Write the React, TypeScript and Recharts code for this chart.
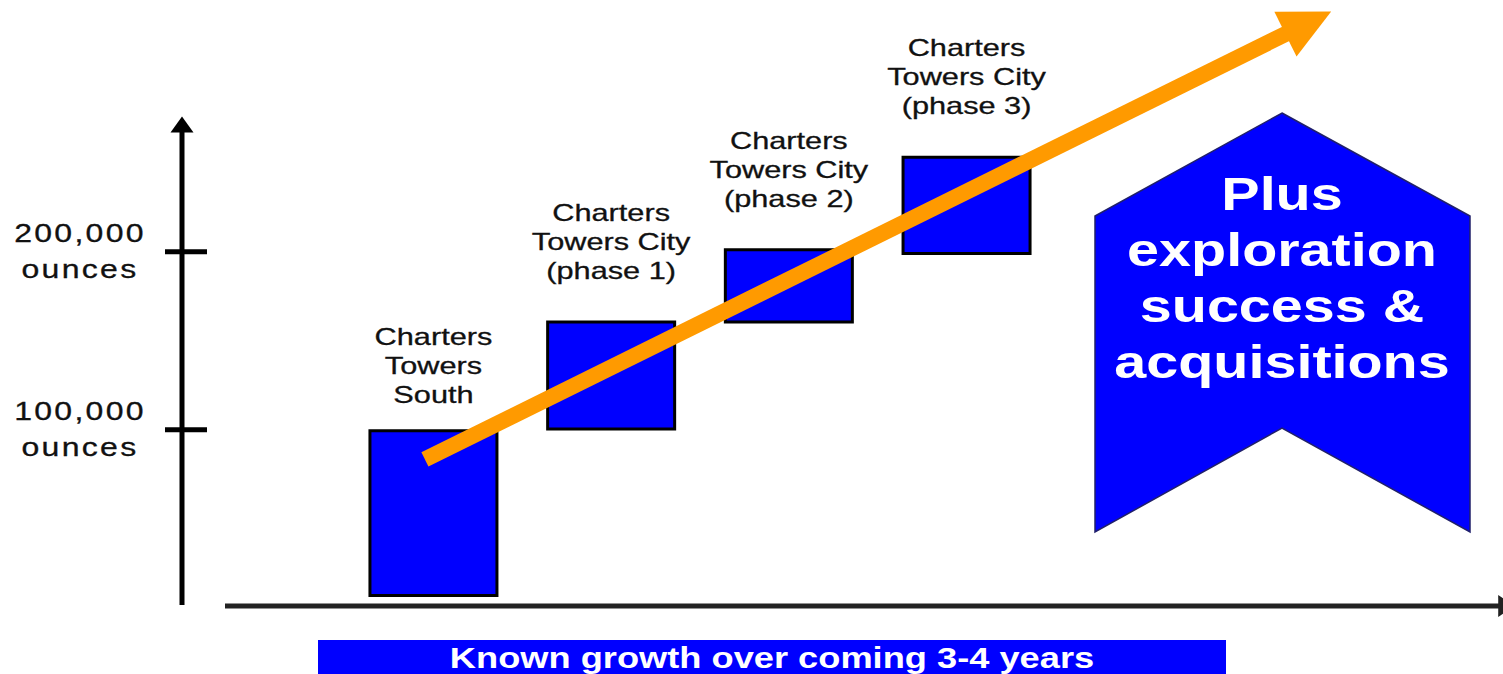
import { Bar, ComposedChart, LabelList, ReferenceLine, XAxis, YAxis } from "recharts";

// projects in the growth plan (label lines split by \n)
const projectLabels = [
    "Charters\nTowers\nSouth",
    "Charters\nTowers City\n(phase 1)",
    "Charters\nTowers City\n(phase 2)",
    "Charters\nTowers City\n(phase 3)",
];
// where each step starts and how many ounces it adds
const startOunces = [7000, 100500, 160500, 199000];
const addedOunces = [92500, 60000, 40500, 54000];
const yTicks = [100000, 200000];
const yTickUnit = "ounces";
const sideNote = ["Plus", "exploration", "success &", "acquisitions"];
const footNote = "Known growth over coming 3-4 years";

// trend arrow ends, in chart units
const trendFrom = { x: 0.95, y: 83400 };
const trendTo = { x: 6.05, y: 334800 };

const BLUE = "#0000FF";
const ORANGE = "#FF9A00";
const FONT = "'Liberation Sans', Arial, sans-serif";
const STRETCH = 1.28;
const labelGap = [28, 43, 43, 43];
const X_MIN = -0.417;
const X_MAX = 7;

const data = projectLabels.map((label, i) => ({
    slot: i + 1,
    label,
    start: startOunces[i],
    added: addedOunces[i],
}));

function SText({ x, y, sx = STRETCH, children, ...rest }: any) {
    return (
        <text transform={`translate(${x} ${y}) scale(${sx} 1)`} textAnchor="middle" fontFamily={FONT} {...rest}>
            {children}
        </text>
    );
}

function arrowShape(headLen: number, headWidth: number) {
    return (p: any) => {
        const { x1, y1, x2, y2, stroke, strokeWidth } = p;
        const dx = x2 - x1;
        const dy = y2 - y1;
        const len = Math.sqrt(dx * dx + dy * dy) || 1;
        const ux = dx / len;
        const uy = dy / len;
        const bx = x2 - ux * headLen;
        const by = y2 - uy * headLen;
        const nx = -uy * headWidth / 2;
        const ny = ux * headWidth / 2;
        return (
            <g>
                <line x1={x1} y1={y1} x2={bx + ux} y2={by + uy} stroke={stroke} strokeWidth={strokeWidth} />
                <polygon points={`${x2},${y2} ${bx + nx},${by + ny} ${bx - nx},${by - ny}`} fill={stroke} />
            </g>
        );
    };
}

function YTick(props: any) {
    const { x, y, payload } = props;
    const v = Number(payload.value);
    return (
        <g>
            <line x1={x - 17} y1={y} x2={x + 25} y2={y} stroke="#000" strokeWidth={5} />
            <SText x={x - 102} y={y - 10} fontSize={25} letterSpacing={1.8} fill="#111" stroke="#111" strokeWidth={0.3}>
                {v.toLocaleString("en-US")}
            </SText>
            <SText x={x - 102} y={y + 26} fontSize={25} letterSpacing={1.8} fill="#111" stroke="#111" strokeWidth={0.3}>
                {yTickUnit}
            </SText>
        </g>
    );
}

function BarLabel(props: any) {
    const vb = props.viewBox ?? props;
    const x = vb.x ?? props.x;
    const y = vb.y ?? props.y;
    const w = vb.width ?? props.width;
    const text = String(props.value ?? "");
    const idx = projectLabels.indexOf(text);
    const lines = text.split("\n");
    const cx = x + w / 2;
    const last = y - (labelGap[idx] ?? 43);
    return (
        <g>
            {lines.map((ln, i) => (
                <SText key={i} x={cx} y={last - (lines.length - 1 - i) * 29} fontSize={24} fill="#111" stroke="#111" strokeWidth={0.3}>
                    {ln}
                </SText>
            ))}
        </g>
    );
}

export default function App() {
    return (
        <div style={{ position: "absolute", left: 0, top: 0, width: 1503, height: 674, background: "#fff", overflow: "hidden" }}>
            <ComposedChart width={1503} height={674} data={data} margin={{ top: 118, right: 3, bottom: 66, left: 0 }}>
                <XAxis dataKey="slot" type="number" domain={[X_MIN, X_MAX]} hide />
                <YAxis
                    type="number"
                    domain={[0, 275000]}
                    ticks={yTicks}
                    width={182}
                    axisLine={false}
                    tickLine={false}
                    tickSize={0}
                    tickMargin={0}
                    tick={(p: any) => <YTick {...p} />}
                />
                <Bar dataKey="start" stackId="a" barSize={127} fill="transparent" isAnimationActive={false} />
                <Bar dataKey="added" stackId="a" barSize={127} fill={BLUE} stroke="#000" strokeWidth={3} isAnimationActive={false}>
                    <LabelList dataKey="label" content={(p: any) => <BarLabel {...p} />} />
                </Bar>
                {/* axes with arrow heads */}
                <ReferenceLine
                    segment={[{ x: X_MIN, y: 1700 }, { x: X_MIN, y: 275800 }]}
                    stroke="#000"
                    strokeWidth={5}
                    ifOverflow="visible"
                    shape={arrowShape(16, 23)}
                />
                <ReferenceLine
                    segment={[{ x: -0.175, y: 1100 }, { x: 7.08, y: 1100 }]}
                    stroke="#222"
                    strokeWidth={5}
                    ifOverflow="visible"
                    shape={arrowShape(16, 22)}
                />
                {/* growth trend arrow */}
                <ReferenceLine
                    segment={[trendFrom, trendTo]}
                    stroke={ORANGE}
                    strokeWidth={16}
                    ifOverflow="visible"
                    shape={arrowShape(51, 50)}
                />
            </ComposedChart>
            <svg width={1503} height={674} style={{ position: "absolute", left: 0, top: 0, pointerEvents: "none" }}>
                <polygon
                    points="1282,113 1470,216 1470,532 1282,428 1095,532 1095,216"
                    fill={BLUE}
                    stroke="#20206a"
                    strokeWidth={1.5}
                />
                {sideNote.map((ln, i) => (
                    <SText key={i} x={1282} y={210 + i * 56} fontSize={46} fontWeight="bold" fill="#fff" sx={1.25}>
                        {ln}
                    </SText>
                ))}
                <rect x={318} y={640} width={908} height={34} fill={BLUE} />
                <SText x={772} y={668} fontSize={29} fontWeight="bold" fill="#fff" sx={1.25}>
                    {footNote}
                </SText>
            </svg>
        </div>
    );
}
